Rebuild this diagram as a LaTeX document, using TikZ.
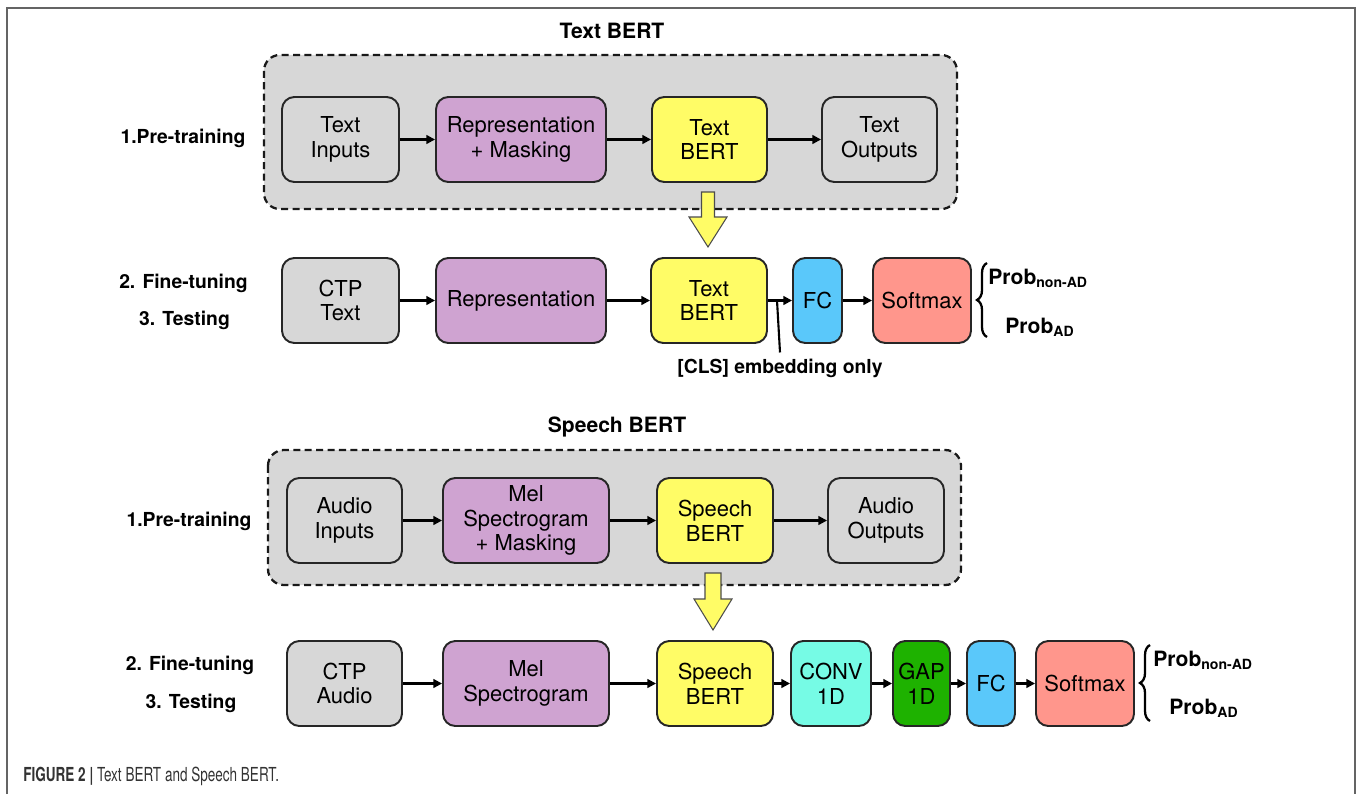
\documentclass[tikz,border=0pt]{standalone}
\usepackage{fontspec}
\setmainfont{TeX Gyre Heros}
\newfontfamily\capfont[FakeStretch=0.7]{TeX Gyre Heros}
\usetikzlibrary{arrows.meta,decorations.pathreplacing}

\definecolor{boxgray}{RGB}{215,215,215}
\definecolor{mauve}{RGB}{207,163,209}
\definecolor{lemon}{RGB}{255,252,102}
\definecolor{skyblue}{RGB}{90,200,250}
\definecolor{salmonred}{RGB}{255,150,140}
\definecolor{aqua}{RGB}{118,251,229}
\definecolor{leaf}{RGB}{30,178,0}
\definecolor{framegray}{RGB}{100,100,100}

\tikzset{
	blk/.style={draw=black!85, line width=1.1pt, rounded corners=7pt,
		minimum height=1.7cm, align=center, inner sep=2pt,
		font=\fontsize{12.5}{14}\selectfont},
	flow/.style={-{Triangle[length=5pt,width=5pt]}, line width=1.2pt},
	stage/.style={font=\bfseries\fontsize{11}{13}\selectfont},
	heading/.style={font=\bfseries\fontsize{12}{14}\selectfont},
	phase/.style={draw=black!90, line width=1.3pt, dash pattern=on 4pt off 2.5pt,
		rounded corners=9pt, fill=boxgray},
	bigarrow/.style={fill=lemon, draw=black!70, line width=0.6pt},
	prob/.style={anchor=west, inner sep=0pt, font=\bfseries\fontsize{12}{14}\selectfont},
	curly/.style={line width=1.3pt, decorate, decoration={brace, amplitude=0.2cm}}
}

\begin{document}
\begin{tikzpicture}[x=0.02cm, y=-0.02cm]
	\useasboundingbox (0,0) rectangle (1358,794);
	\draw[framegray, line width=0.9pt] (7,794) -- (7,8) -- (1355,8) -- (1355,794);

	% Text BERT
	\node[heading] (ttitle) at (612,31) {Text BERT};
	\filldraw[phase] (264,55) rectangle (957,209);
	\node[stage] (tpre) at (183,138) {1.Pre-training};
	\node[blk, fill=boxgray, minimum width=2.34cm] (tin)    at (340.5,139.5) {Text\\ Inputs};
	\node[blk, fill=mauve,   minimum width=3.4cm]  (trep)   at (521,139.5)   {Representation\\ + Masking};
	\node[blk, fill=lemon,   minimum width=2.3cm]  (tbert)  at (709.5,139.5) {Text\\ BERT};
	\node[blk, fill=boxgray, minimum width=2.3cm]  (tout)   at (879.5,139.5) {Text\\ Outputs};
	\draw[flow] (tin) -- (trep);
	\draw[flow] (trep) -- (tbert);
	\draw[flow] (tbert) -- (tout);

	\filldraw[bigarrow] (701.5,192) -- (714.5,192) -- (714.5,217) -- (727,217)
		-- (708,247) -- (689,217) -- (701.5,217) -- cycle;

	\node[stage] (tfine) at (183.5,283) {2. Fine-tuning};
	\node[stage] (ttest) at (184.5,320) {3. Testing};
	\node[blk, fill=boxgray,   minimum width=2.34cm] (tctp)   at (340.5,300.5) {CTP\\ Text};
	\node[blk, fill=mauve,     minimum width=3.4cm]  (trep2)  at (521,300.5)   {Representation};
	\node[blk, fill=lemon,     minimum width=2.32cm] (tbert2) at (709,300.5)   {Text\\ BERT};
	\node[blk, fill=skyblue,   minimum width=0.98cm] (tfc)    at (817.5,300.5) {FC};
	\node[blk, fill=salmonred, minimum width=1.96cm] (tsoft)  at (922,300.5)   {Softmax};
	\draw[flow] (tctp) -- (trep2);
	\draw[flow] (trep2) -- (tbert2);
	\draw[flow] (tbert2) -- (tfc);
	\draw[flow] (tfc) -- (tsoft);

	\coordinate (tcls) at (777,300.5);
	\node[stage] (clslabel) at (780,368) {[CLS] embedding only};
	\draw[line width=1.2pt] (tcls) -- (clslabel.north);

	\draw[curly] (987,337) -- (987,263);
	\node[prob] (tnon) at (988,278) {Prob\textsubscript{non-AD}};
	\node[prob] (tad)  at (1005,327) {Prob\textsubscript{AD}};

	% Speech BERT
	\node[heading] (stitle) at (617,427) {Speech BERT};
	\filldraw[phase] (268,450) rectangle (961,585);
	\node[stage] (spre) at (189,521) {1.Pre-training};
	\node[blk, fill=boxgray, minimum width=2.3cm]  (sin)   at (344.5,520.5) {Audio\\ Inputs};
	\node[blk, fill=mauve,   minimum width=3.32cm] (smel)  at (526,520.5)   {Mel\\ Spectrogram\\ + Masking};
	\node[blk, fill=lemon,   minimum width=2.32cm] (sbert) at (715,520.5)   {Speech\\ BERT};
	\node[blk, fill=boxgray, minimum width=2.32cm] (sout)  at (886,520.5)   {Audio\\ Outputs};
	\draw[flow] (sin) -- (smel);
	\draw[flow] (smel) -- (sbert);
	\draw[flow] (sbert) -- (sout);

	\filldraw[bigarrow] (705,573) -- (721,573) -- (721,599) -- (732,599)
		-- (713,630) -- (694,599) -- (705,599) -- cycle;

	\node[stage] (sfine) at (190,665) {2. Fine-tuning};
	\node[stage] (stest) at (191,703) {3. Testing};
	\node[blk, fill=boxgray,   minimum width=2.3cm]  (sctp)   at (344.5,683.5) {CTP\\ Audio};
	\node[blk, fill=mauve,     minimum width=3.32cm] (smel2)  at (526,683.5)   {Mel\\ Spectrogram};
	\node[blk, fill=lemon,     minimum width=2.32cm] (sbert2) at (715,683.5)   {Speech\\ BERT};
	\node[blk, fill=aqua,      minimum width=1.6cm]  (sconv)  at (831,683.5)   {CONV\\ 1D};
	\node[blk, fill=leaf,      minimum width=1.14cm] (sgap)   at (921.5,683.5) {GAP\\ 1D};
	\node[blk, fill=skyblue,   minimum width=0.96cm] (sfc)    at (991,683.5)   {FC};
	\node[blk, fill=salmonred, minimum width=1.96cm] (ssoft)  at (1085,683.5)  {Softmax};
	\draw[flow] (sctp) -- (smel2);
	\draw[flow] (smel2) -- (sbert2);
	\draw[flow] (sbert2) -- (sconv);
	\draw[flow] (sconv) -- (sgap);
	\draw[flow] (sgap) -- (sfc);
	\draw[flow] (sfc) -- (ssoft);

	\draw[curly] (1150,721) -- (1150,645);
	\node[prob] (snon) at (1153,660) {Prob\textsubscript{non-AD}};
	\node[prob] (sad)  at (1169,708) {Prob\textsubscript{AD}};

	% caption
	\node[anchor=west, inner sep=0pt, text=black!80] (caption) at (23,776)
		{\capfont\fontsize{11}{13}\selectfont\textbf{FIGURE 2 |} Text BERT and Speech BERT.};
\end{tikzpicture}
\end{document}
